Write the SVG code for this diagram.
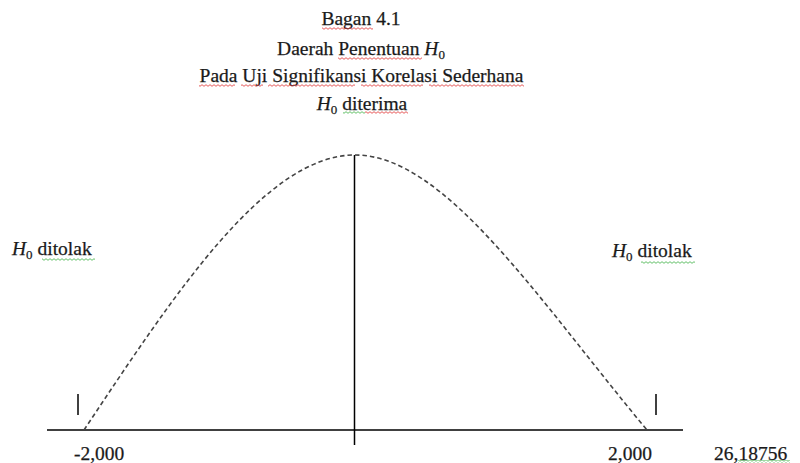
<svg xmlns="http://www.w3.org/2000/svg" width="800" height="463" viewBox="0 0 800 463">
  <defs>
    <pattern id="wr" width="4" height="3" patternUnits="userSpaceOnUse">
      <path d="M0,2.3 L2,0.7 L4,2.3" fill="none" stroke="#e03030" stroke-width="0.8"/>
    </pattern>
    <pattern id="wg" width="4" height="3" patternUnits="userSpaceOnUse">
      <path d="M0,2.3 L2,0.7 L4,2.3" fill="none" stroke="#3cb043" stroke-width="0.8"/>
    </pattern>
  </defs>
  <style>
    text { font-family: "Liberation Serif", "Times New Roman", serif; font-size: 19.5px; fill: #1a1a1a; stroke: #1a1a1a; stroke-width: 0.25; }
    .it { font-style: italic; }
    .sub { font-size: 13px; }
    .ax { stroke: #000; stroke-width: 1.5; fill: none; }
    .curve { stroke: #444; stroke-width: 1.6; fill: none; stroke-dasharray: 4.5 3; }
    .sr { fill: url(#wr); }
    .sg { fill: url(#wg); }
  </style>
  <rect width="800" height="463" fill="#fff"/>

  <g id="title">
    <text x="361" y="25" text-anchor="middle">Bagan 4.1</text>
    <text x="361" y="55" text-anchor="middle">Daerah Penentuan <tspan class="it">H</tspan><tspan class="sub" dy="4">0</tspan></text>
    <text x="361.5" y="82" text-anchor="middle">Pada Uji Signifikansi Korelasi Sederhana</text>
    <text x="362" y="110" text-anchor="middle"><tspan class="it">H</tspan><tspan class="sub" dy="4">0</tspan><tspan dy="-4"> diterima</tspan></text>
    <rect class="sr" x="322" y="27" width="51" height="3"/>
    <rect class="sr" x="338" y="57" width="84" height="3"/>
    <rect class="sr" x="199" y="84" width="36" height="3"/>
    <rect class="sr" x="241" y="84" width="22" height="3"/>
    <rect class="sr" x="268" y="84" width="87" height="3"/>
    <rect class="sr" x="361" y="84" width="62" height="3"/>
    <rect class="sr" x="429" y="84" width="95" height="3"/>
    <rect class="sg" x="343" y="111" width="22" height="3"/>
    <rect class="sr" x="365" y="111" width="43" height="3"/>
  </g>

  <g id="connectors">
    <line class="ax" x1="47" y1="430" x2="683" y2="430"/>
    <line class="ax" x1="354.5" y1="155" x2="354.5" y2="445"/>
    <line class="ax" x1="78" y1="394" x2="78" y2="415"/>
    <line class="ax" x1="656" y1="394" x2="656" y2="415"/>
    <path class="curve" d="M84,430 C174,295 265,155 355,155 C445,155 537,298 647,430"/>
  </g>

  <g id="label-left">
    <text x="12" y="255"><tspan class="it">H</tspan><tspan class="sub" dy="4">0</tspan><tspan dy="-4"> ditolak</tspan></text>
    <rect class="sg" x="42" y="258" width="53" height="3"/>
  </g>
  <g id="label-right">
    <text x="612" y="257"><tspan class="it">H</tspan><tspan class="sub" dy="4">0</tspan><tspan dy="-4"> ditolak</tspan></text>
    <rect class="sg" x="641" y="261" width="54" height="3"/>
  </g>

  <g id="values">
    <text x="74" y="460">-2,000</text>
    <text x="608" y="460">2,000</text>
    <text x="714" y="460">26,18756</text>
    <rect class="sg" x="738" y="460" width="52" height="3"/>
  </g>
</svg>
